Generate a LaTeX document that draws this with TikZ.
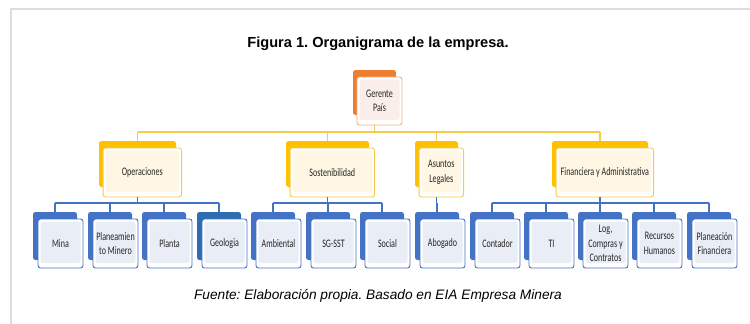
\documentclass[tikz,border=0pt]{standalone}
\usepackage{fontspec}
\setmainfont{Liberation Sans}
\newfontfamily\boxfont[FakeStretch=0.7]{Carlito}
\definecolor{orgorange}{HTML}{ED7D31}
\definecolor{orgorangeln}{HTML}{F4B183}
\definecolor{orgpeach}{HTML}{FBEEE8}
\definecolor{orgyellow}{HTML}{FFC000}
\definecolor{orgyellowln}{HTML}{F5CB4A}
\definecolor{orgcream}{HTML}{FFF7E3}
\definecolor{orgblue}{HTML}{4472C4}
\definecolor{orgteal}{HTML}{2E6DB0}
\definecolor{orgpale}{HTML}{E9EDF5}
\definecolor{framegray}{HTML}{DCDCDC}
\tikzset{
  backbox/.style={rectangle, rounded corners=2.5pt, inner sep=0pt, fill=#1},
  frontbox/.style 2 args={rectangle, rounded corners=2.5pt, inner sep=0pt,
    draw=#1, fill=white, line width=0.9pt, align=center, text=black!85,
    font=\boxfont\fontsize{11.5}{14.5}\selectfont,
    path picture={\fill[#2] ([shift={(2.5pt,-2.5pt)}]path picture bounding box.north west)
      rectangle ([shift={(-2.5pt,5pt)}]path picture bounding box.south east);}},
  yline/.style={draw=orgyellowln, line width=1.3pt},
  bline/.style={draw=orgblue, line width=1.3pt},
}
\begin{document}
\frenchspacing
\begin{tikzpicture}[x=1pt,y=-1pt]
  \useasboundingbox (0,0) rectangle (750,324);
  % Frame
  \draw[framegray, line width=1.5pt] (11,324) -- (11,9) -- (750,9);

  % Title and source
  \node[font=\bfseries\fontsize{14.6}{16}\selectfont] (title) at (378,44) {Figura 1. Organigrama de la empresa.};
  \node[font=\itshape\fontsize{13.7}{15}\selectfont] (source) at (378,296) {Fuente: Elaboración propia. Basado en EIA Empresa Minera};

  % Gerente
  \node[backbox=orgorange, minimum width=43pt, minimum height=45pt] (ger-b) at (374.5,92.5) {};
  \node[frontbox={orgorangeln}{orgpeach}, minimum width=45pt, minimum height=48pt] (ger) at (379.5,101) {Gerente\\País};

  % Areas
  \foreach \n/\x/\w/\t in {ope/137.5/77/Operaciones, sos/327.5/83/Sostenibilidad,
                           leg/436.5/43/{Asuntos\\Legales}, fin/600/96/{Financiera y Administrativa}}
  {
    \node[backbox=orgyellow, minimum width=\w pt, minimum height=46pt] (\n-b) at (\x,164) {};
    \node[frontbox={orgyellowln}{orgcream}, minimum width=\w pt+1.5pt, minimum height=49pt] (\n) at (\x+4.8,172.5) {\t};
  }

  % Units
  \foreach \n/\x/\t/\c in {mina/55/Mina/orgblue, plan/110/{Planeamien\\to Minero}/orgblue,
                           planta/164/Planta/orgblue, geo/219/Geologia/orgteal,
                           amb/273/Ambiental/orgblue, sst/328/SG-SST/orgblue, soc/382/Social/orgblue,
                           abo/437/Abogado/orgblue, cont/492/Contador/orgblue, ti/546/TI/orgblue,
                           log/600/{Log,\\Compras y\\Contratos}/orgblue, rrhh/654/{Recursos\\Humanos}/orgblue,
                           pfin/709/{Planeación\\Financiera}/orgblue}
  {
    \node[backbox=\c, minimum width=44pt, minimum height=48pt] (\n-b) at (\x,236) {};
    \node[frontbox={orgblue}{orgpale}, minimum width=45pt, minimum height=49pt] (\n) at (\x+5.5,243.5) {\t};
  }

  % Gerente to areas
  \coordinate (busA) at (0,132);
  \draw[yline] (ger-b.center |- ger.south) -- (ger-b.center |- busA);
  \draw[yline] (ope-b.center |- busA) -- (fin-b.center |- busA);
  \foreach \n in {ope,sos,leg,fin}
    \draw[yline] (\n-b.center |- busA) -- (\n-b.north);

  % Areas to units
  \coordinate (busB) at (0,203);
  \foreach \p/\a/\z in {ope/mina/geo, sos/amb/soc, leg/abo/abo, fin/cont/pfin}
  {
    \draw[bline] (\p-b.center |- \p.south) -- (\p-b.center |- busB);
    \draw[bline] (\a-b.center |- busB) -- (\z-b.center |- busB);
  }
  \foreach \n in {mina,plan,planta,geo,amb,sst,soc,abo,cont,ti,log,rrhh,pfin}
    \draw[bline] (\n-b.center |- busB) -- (\n-b.north);
\end{tikzpicture}
\end{document}
